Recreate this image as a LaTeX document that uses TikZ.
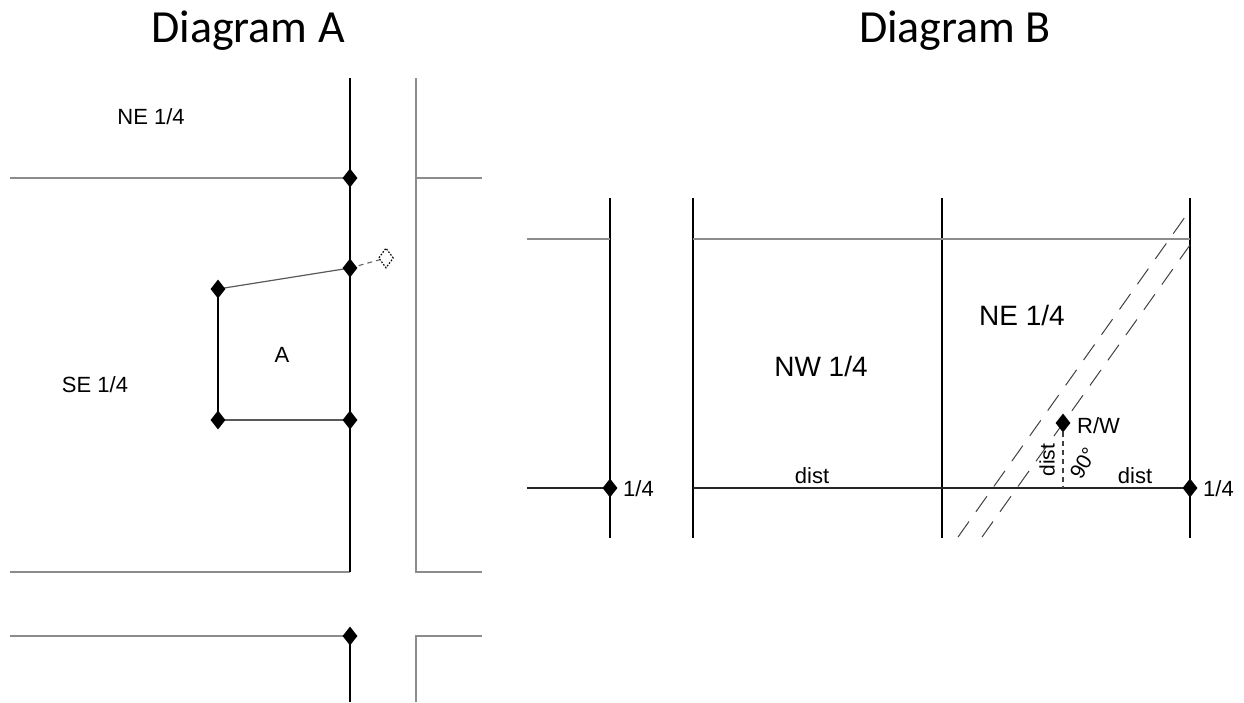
\documentclass[tikz,border=0pt]{standalone}
\usepackage{fontspec}
\setmainfont{Liberation Sans}
\newfontfamily\titlefont{Carlito}
\usetikzlibrary{shapes.geometric,backgrounds}
\begin{document}
\begin{tikzpicture}[x=1pt,y=-1pt,
  ln/.style={line width=1.3pt, black},
  gln/.style={line width=1.6pt, black!45},
  pln/.style={line width=1.2pt, black!65},
  mk/.style={diamond, fill=black, draw=none, minimum width=15pt, minimum height=19pt, inner sep=0pt},
  omk/.style={diamond, draw=black, dash pattern=on 1.6pt off 1.6pt, line width=1.2pt, fill=white, minimum width=15pt, minimum height=20pt, inner sep=0pt},
  lbl/.style={font=\fontsize{22}{26}\selectfont, inner sep=0pt},
  rlbl/.style={font=\fontsize{21}{24}\selectfont, inner sep=0pt},
  big/.style={font=\fontsize{28}{32}\selectfont, inner sep=0pt},
  ttl/.style={font=\titlefont\fontsize{46}{50}\selectfont, inner sep=0pt},
  rwdash/.style={line width=1.0pt, black!75, dash pattern=on 19pt off 12pt},
  smalldash/.style={line width=1.1pt, black!60, dash pattern=on 5pt off 4pt}
]
\useasboundingbox (0,0) rectangle (1244,702);

% titles
\node[ttl, anchor=base] (tA) at (248,42) {Diagram A};
\node[ttl, anchor=base] (tB) at (955,42) {Diagram B};

% ---------- Diagram A ----------
\node[mk] (d1) at (350,178) {};
\node[mk] (d2) at (350,268) {};
\node[mk] (d3) at (350,420) {};
\node[mk] (d4) at (218,289) {};
\node[mk] (d5) at (218,420) {};
\node[mk] (d6) at (350,636) {};
\node[omk] (od) at (386,258) {};

\coordinate (a1) at (350,78);
\coordinate (a2) at (350,572);
\coordinate (a3) at (10,572);
\coordinate (a4) at (10,178);
\coordinate (a5) at (416,78);
\coordinate (a6) at (416,572);
\coordinate (a7) at (482,572);
\coordinate (a8) at (416,178);
\coordinate (a9) at (482,178);
\coordinate (a10) at (10,636);
\coordinate (a11) at (350,702);
\coordinate (a12) at (482,636);
\coordinate (a13) at (416,636);
\coordinate (a14) at (416,702);

\begin{scope}[on background layer]
\draw[gln] (a4) -- (d1.center);
\draw[gln] (a8) -- (a9);
\draw[gln] (a3) -- (a2);
\draw[gln] (a5) -- (a6) -- (a7);
\draw[gln] (a10) -- (d6.center);
\draw[gln] (a12) -- (a13) -- (a14);
\draw[ln] (a1) -- (d1.center) -- (d2.center) -- (d3.center) -- (a2);
\draw[ln] (d6.center) -- (a11);
\draw[pln] (d4.center) -- (d2.center);
\draw[ln] (d4.center) -- (d5.center);
\draw[pln] (d5.center) -- (d3.center);
\draw[smalldash] (d2.center) -- (od);
\end{scope}

\node[lbl, anchor=base] (lne) at (151,124) {NE 1/4};
\node[lbl, anchor=base] (lse) at (95,392) {SE 1/4};
\node[lbl, anchor=base] (lA) at (282,362) {A};

% ---------- Diagram B ----------
\node[mk] (q1) at (610,488) {};
\node[mk] (q2) at (1190,488) {};
\node[mk] (rw) at (1063,423) {};

\coordinate (b1) at (610,198);
\coordinate (b2) at (610,538);
\coordinate (b3) at (527,239);
\coordinate (b4) at (610,239);
\coordinate (b5) at (527,488);
\coordinate (b6) at (693,198);
\coordinate (b7) at (693,538);
\coordinate (b8) at (942,198);
\coordinate (b9) at (942,538);
\coordinate (b10) at (1190,198);
\coordinate (b11) at (1190,538);
\coordinate (b12) at (693,239);
\coordinate (b13) at (1190,239);
\coordinate (b14) at (693,488);
\coordinate (b15) at (1063,488);
\coordinate (e1) at (958,537);
\coordinate (e2) at (1190,210);
\coordinate (e3) at (982,537);
\coordinate (e4) at (1190,245);

\begin{scope}[on background layer]
\draw[ln] (b1) -- (b2);
\draw[ln] (b6) -- (b7);
\draw[ln] (b8) -- (b9);
\draw[ln] (b10) -- (b11);
\draw[gln] (b3) -- (b4);
\draw[gln] (b12) -- (b13);
\draw[ln, black!85] (b5) -- (q1.center);
\draw[ln, black!85] (b14) -- (q2.center);
\draw[rwdash] (e1) -- (e2);
\draw[rwdash] (e3) -- (e4);
\draw[smalldash, black!75] (rw.center) -- (b15);
\end{scope}

\node[big, anchor=base] (lnw) at (821,376) {NW 1/4};
\node[big, anchor=base] (lneb) at (1022,325) {NE 1/4};
\node[lbl, anchor=base west] (l14a) at (623,496) {1/4};
\node[lbl, anchor=base west] (l14b) at (1203,496) {1/4};
\node[lbl, anchor=base west] (lrw) at (1077,433) {R/W};
\node[lbl, anchor=base] (ldist1) at (812,483) {dist};
\node[lbl, anchor=base] (ldist2) at (1135,483) {dist};
\node[rlbl, rotate=90] (ldist3) at (1047,460) {dist};
\node[rlbl, rotate=60] (l90) at (1083,463) {90°};
\end{tikzpicture}
\end{document}
